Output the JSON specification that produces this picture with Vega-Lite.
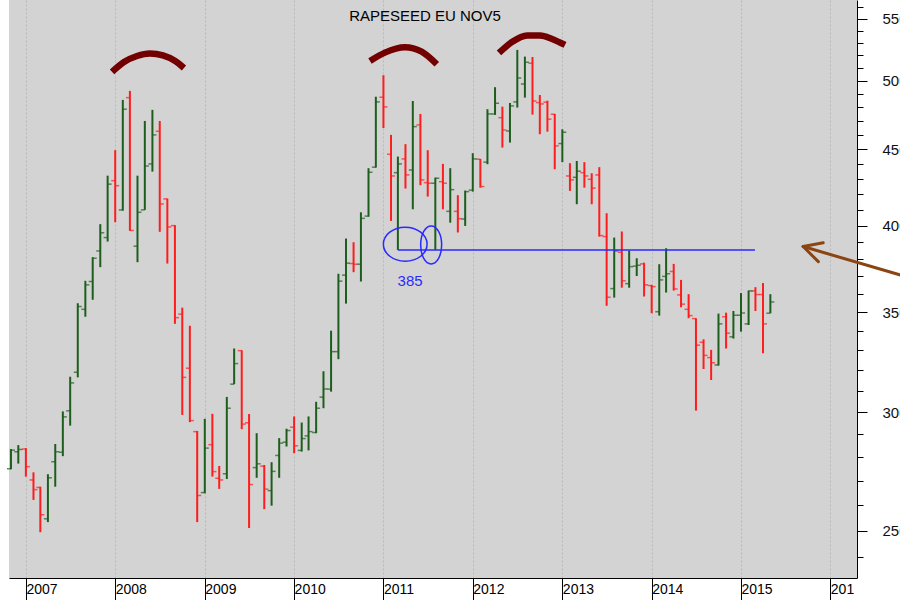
{
  "$schema": "https://vega.github.io/schema/vega-lite/v6.json",
  "width": 848,
  "height": 578,
  "autosize": "none",
  "padding": {"left": 9, "top": 0, "right": 43, "bottom": 22},
  "background": "white",
  "config": {"view": {"fill": "#d3d3d3", "stroke": null}, "font": "Liberation Sans"},
  "title": {"text": "RAPESEED EU NOV5", "anchor": "middle", "offset": -31, "baseline": "middle", "fontSize": 15, "fontWeight": "normal", "font": "Liberation Sans", "color": "black", "dx": -8},
  "datasets": {
    "bars": [
      {"d":"2006-11-01","o":275.0,"h":283.5,"l":274.8,"c":283.0},
      {"d":"2006-12-01","o":282.3,"h":285.2,"l":277.2,"c":283.3},
      {"d":"2007-01-01","o":283.5,"h":283.9,"l":271.7,"c":275.9},
      {"d":"2007-02-01","o":270.3,"h":273.5,"l":262.1,"c":266.3},
      {"d":"2007-03-01","o":267.2,"h":267.5,"l":249.4,"c":256.2},
      {"d":"2007-04-01","o":254.6,"h":272.7,"l":253.3,"c":271.2},
      {"d":"2007-05-01","o":278.0,"h":285.7,"l":267.5,"c":282.3},
      {"d":"2007-06-01","o":282.1,"h":300.4,"l":280.4,"c":297.9},
      {"d":"2007-07-01","o":300.7,"h":316.9,"l":293.9,"c":313.9},
      {"d":"2007-08-01","o":319.1,"h":354.9,"l":316.6,"c":353.1},
      {"d":"2007-09-01","o":351.6,"h":367.4,"l":347.6,"c":365.1},
      {"d":"2007-10-01","o":367.0,"h":381.0,"l":356.8,"c":380.4},
      {"d":"2007-11-01","o":384.7,"h":400.9,"l":375.2,"c":395.6},
      {"d":"2007-12-01","o":392.7,"h":432.0,"l":390.3,"c":426.4},
      {"d":"2008-01-01","o":428.7,"h":449.3,"l":402.1,"c":425.4},
      {"d":"2008-02-01","o":409.8,"h":485.5,"l":409.3,"c":478.6},
      {"d":"2008-03-01","o":487.2,"h":492.3,"l":396.8,"c":397.0},
      {"d":"2008-04-01","o":387.5,"h":432.0,"l":378.1,"c":408.3},
      {"d":"2008-05-01","o":409.8,"h":470.0,"l":409.8,"c":438.5},
      {"d":"2008-06-01","o":439.9,"h":478.1,"l":434.7,"c":460.0},
      {"d":"2008-07-01","o":462.6,"h":470.0,"l":396.2,"c":413.6},
      {"d":"2008-08-01","o":416.8,"h":417.0,"l":377.3,"c":399.2},
      {"d":"2008-09-01","o":400.0,"h":400.3,"l":343.8,"c":347.1},
      {"d":"2008-10-01","o":349.0,"h":352.5,"l":298.8,"c":316.6},
      {"d":"2008-11-01","o":321.1,"h":342.8,"l":295.5,"c":296.2},
      {"d":"2008-12-01","o":291.2,"h":291.5,"l":253.3,"c":263.9},
      {"d":"2009-01-01","o":265.1,"h":297.0,"l":264.8,"c":283.9},
      {"d":"2009-02-01","o":285.4,"h":299.3,"l":271.7,"c":273.8},
      {"d":"2009-03-01","o":271.0,"h":276.2,"l":266.6,"c":270.3},
      {"d":"2009-04-01","o":272.9,"h":307.2,"l":270.7,"c":301.9},
      {"d":"2009-05-01","o":313.3,"h":331.0,"l":313.3,"c":323.4},
      {"d":"2009-06-01","o":329.9,"h":330.1,"l":292.3,"c":294.6},
      {"d":"2009-07-01","o":295.2,"h":299.2,"l":251.0,"c":268.4},
      {"d":"2009-08-01","o":275.5,"h":290.5,"l":271.2,"c":277.1},
      {"d":"2009-09-01","o":276.1,"h":276.6,"l":258.4,"c":266.5},
      {"d":"2009-10-01","o":265.9,"h":277.8,"l":259.8,"c":273.9},
      {"d":"2009-11-01","o":280.7,"h":288.3,"l":271.2,"c":286.1},
      {"d":"2009-12-01","o":286.5,"h":292.5,"l":284.6,"c":291.7},
      {"d":"2010-01-01","o":293.2,"h":298.1,"l":281.7,"c":284.9},
      {"d":"2010-02-01","o":282.9,"h":295.3,"l":282.4,"c":288.1},
      {"d":"2010-03-01","o":289.3,"h":298.1,"l":282.9,"c":291.2},
      {"d":"2010-04-01","o":290.8,"h":304.9,"l":290.5,"c":301.9},
      {"d":"2010-05-01","o":307.1,"h":319.6,"l":301.9,"c":311.0},
      {"d":"2010-06-01","o":310.9,"h":340.2,"l":309.7,"c":329.4},
      {"d":"2010-07-01","o":329.4,"h":371.4,"l":325.6,"c":367.2},
      {"d":"2010-08-01","o":370.6,"h":392.1,"l":354.7,"c":377.5},
      {"d":"2010-09-01","o":377.3,"h":389.9,"l":372.3,"c":376.9},
      {"d":"2010-10-01","o":376.9,"h":408.3,"l":367.0,"c":404.5},
      {"d":"2010-11-01","o":405.9,"h":437.0,"l":405.5,"c":434.3},
      {"d":"2010-12-01","o":437.7,"h":487.9,"l":437.4,"c":484.0},
      {"d":"2011-01-01","o":487.5,"h":504.3,"l":464.9,"c":480.3},
      {"d":"2011-02-01","o":446.5,"h":460.0,"l":402.9,"c":431.8},
      {"d":"2011-03-01","o":434.0,"h":444.9,"l":385.3,"c":439.9},
      {"d":"2011-04-01","o":443.3,"h":453.5,"l":423.5,"c":432.5},
      {"d":"2011-05-01","o":435.8,"h":484.7,"l":410.2,"c":465.9},
      {"d":"2011-06-01","o":467.1,"h":475.1,"l":425.7,"c":429.2},
      {"d":"2011-07-01","o":427.4,"h":449.3,"l":418.3,"c":427.0},
      {"d":"2011-08-01","o":427.0,"h":430.7,"l":385.3,"c":430.3},
      {"d":"2011-09-01","o":428.0,"h":439.9,"l":410.2,"c":427.0},
      {"d":"2011-10-01","o":408.9,"h":437.0,"l":401.8,"c":422.8},
      {"d":"2011-11-01","o":408.9,"h":419.2,"l":395.8,"c":404.3},
      {"d":"2011-12-01","o":404.1,"h":422.2,"l":399.8,"c":421.5},
      {"d":"2012-01-01","o":422.5,"h":447.2,"l":421.5,"c":443.3},
      {"d":"2012-02-01","o":443.1,"h":443.3,"l":424.1,"c":424.8},
      {"d":"2012-03-01","o":441.1,"h":478.6,"l":439.7,"c":475.1},
      {"d":"2012-04-01","o":475.1,"h":495.1,"l":474.4,"c":483.0},
      {"d":"2012-05-01","o":472.4,"h":480.5,"l":451.1,"c":463.5},
      {"d":"2012-06-01","o":462.8,"h":483.2,"l":454.6,"c":481.0},
      {"d":"2012-07-01","o":484.0,"h":524.4,"l":479.8,"c":502.2},
      {"d":"2012-08-01","o":497.6,"h":519.0,"l":487.2,"c":514.5},
      {"d":"2012-09-01","o":513.7,"h":518.7,"l":474.6,"c":484.7},
      {"d":"2012-10-01","o":483.5,"h":489.2,"l":460.5,"c":482.5},
      {"d":"2012-11-01","o":483.8,"h":484.9,"l":462.3,"c":471.3},
      {"d":"2012-12-01","o":474.9,"h":475.1,"l":436.3,"c":452.3},
      {"d":"2013-01-01","o":453.9,"h":464.0,"l":441.1,"c":461.9},
      {"d":"2013-02-01","o":431.8,"h":440.4,"l":422.0,"c":429.2},
      {"d":"2013-03-01","o":430.9,"h":441.9,"l":413.4,"c":435.0},
      {"d":"2013-04-01","o":434.0,"h":441.1,"l":424.1,"c":431.8},
      {"d":"2013-05-01","o":429.6,"h":433.6,"l":413.4,"c":423.8},
      {"d":"2013-06-01","o":432.5,"h":437.7,"l":393.3,"c":393.9},
      {"d":"2013-07-01","o":393.3,"h":407.7,"l":353.5,"c":358.2},
      {"d":"2013-08-01","o":363.0,"h":392.7,"l":358.0,"c":384.7},
      {"d":"2013-09-01","o":383.9,"h":396.4,"l":363.5,"c":367.4},
      {"d":"2013-10-01","o":365.8,"h":384.9,"l":363.5,"c":375.5},
      {"d":"2013-11-01","o":375.8,"h":380.4,"l":370.1,"c":376.3},
      {"d":"2013-12-01","o":377.1,"h":377.8,"l":358.6,"c":365.1},
      {"d":"2014-01-01","o":364.7,"h":365.1,"l":349.5,"c":364.1},
      {"d":"2014-02-01","o":350.3,"h":376.9,"l":348.2,"c":367.9},
      {"d":"2014-03-01","o":369.9,"h":386.3,"l":360.8,"c":371.4},
      {"d":"2014-04-01","o":372.7,"h":377.1,"l":361.9,"c":362.8},
      {"d":"2014-05-01","o":359.5,"h":367.9,"l":352.7,"c":354.4},
      {"d":"2014-06-01","o":351.6,"h":359.9,"l":346.8,"c":348.2},
      {"d":"2014-07-01","o":346.6,"h":346.8,"l":300.8,"c":332.7},
      {"d":"2014-08-01","o":334.2,"h":335.7,"l":320.7,"c":327.5},
      {"d":"2014-09-01","o":326.4,"h":330.3,"l":315.3,"c":323.8},
      {"d":"2014-10-01","o":322.7,"h":349.3,"l":322.4,"c":343.8},
      {"d":"2014-11-01","o":347.6,"h":349.8,"l":331.0,"c":338.9},
      {"d":"2014-12-01","o":337.0,"h":350.7,"l":336.1,"c":348.4},
      {"d":"2015-01-01","o":348.4,"h":360.5,"l":339.7,"c":349.6},
      {"d":"2015-02-01","o":343.8,"h":361.9,"l":343.2,"c":361.7},
      {"d":"2015-03-01","o":361.7,"h":363.8,"l":350.7,"c":359.7},
      {"d":"2015-04-01","o":359.7,"h":366.1,"l":328.6,"c":343.8},
      {"d":"2015-05-01","o":349.5,"h":359.9,"l":349.5,"c":355.6}
    ],
    "arcs": [
      {"arc":1,"d":"2007-12-19","v":506.9},
      {"arc":1,"d":"2008-02-06","v":514.7},
      {"arc":1,"d":"2008-03-30","v":519.5},
      {"arc":1,"d":"2008-05-22","v":521.5},
      {"arc":1,"d":"2008-07-14","v":519.9},
      {"arc":1,"d":"2008-09-02","v":515.5},
      {"arc":1,"d":"2008-10-08","v":510.0},
      {"arc":2,"d":"2010-11-07","v":515.5},
      {"arc":2,"d":"2011-01-07","v":522.2},
      {"arc":2,"d":"2011-03-30","v":526.5},
      {"arc":2,"d":"2011-06-06","v":523.0},
      {"arc":2,"d":"2011-08-07","v":512.9},
      {"arc":3,"d":"2012-04-17","v":521.9},
      {"arc":3,"d":"2012-06-09","v":530.8},
      {"arc":3,"d":"2012-08-10","v":536.2},
      {"arc":3,"d":"2012-10-02","v":536.2},
      {"arc":3,"d":"2012-11-20","v":533.3},
      {"arc":3,"d":"2013-01-12","v":528.4}
    ],
    "arrow": [
      {"seg":"shaft","d":"2015-09-12","v":387.3},
      {"seg":"shaft","d":"2017-03-24","v":364.1},
      {"seg":"upper","d":"2015-09-12","v":387.3},
      {"seg":"upper","d":"2015-12-03","v":389.6},
      {"seg":"lower","d":"2015-09-12","v":387.3},
      {"seg":"lower","d":"2015-11-13","v":378.4}
    ]
  },
  "layer": [
    {
      "data": {"name": "bars"},
      "mark": {"type": "rule", "strokeWidth": 2},
      "encoding": {
        "x": {
          "field": "d", "type": "temporal",
          "scale": {"type": "utc", "domain": ["2006-10-24", "2016-04-19"]},
          "axis": {
            "orient": "bottom", "format": "%Y", "formatType": "utc",
            "tickCount": {"interval": "year", "step": 1},
            "grid": true, "gridDash": [2, 2], "gridColor": "#b8b8b8", "gridWidth": 1,
            "domainColor": "black", "domainWidth": 1,
            "tickColor": "black", "tickSize": 22, "tickWidth": 1,
            "labelAlign": "left", "labelBaseline": "top", "labelPadding": -18, "labelDx": 2,
            "labelFont": "Liberation Sans", "labelFontSize": 14, "labelColor": "black",
            "labelExpr": "utcyear(datum.value) == 2016 ? '201' : datum.label",
            "labelOverlap": false, "labelBound": false, "labelFlush": false,
            "title": null
          }
        },
        "y": {
          "field": "l", "type": "quantitative",
          "scale": {"type": "log", "domain": [232.4, 566.3], "nice": false, "zero": false},
          "axis": {
            "orient": "right",
            "values": [240, 250, 260, 270, 280, 290, 300, 310, 320, 330, 340, 350, 360, 370, 380, 390, 400, 410, 420, 430, 440, 450, 460, 470, 480, 490, 500, 510, 520, 530, 540, 550, 560],
            "format": "d",
            "labelExpr": "datum.value % 50 === 0 ? format(datum.value, 'd') : ''",
            "tickSize": {"condition": {"test": "datum.value % 50 === 0", "value": 10}, "value": 6},
            "grid": false, "domainColor": "black", "tickColor": "black",
            "labelFont": "Liberation Sans", "labelFontSize": 15, "labelColor": "#111111",
            "labelPadding": 15, "labelBaseline": "middle", "labelAlign": "left",
            "labelOverlap": false, "labelBound": false, "title": null
          }
        },
        "y2": {"field": "h"},
        "color": {"condition": {"test": "datum.c >= datum.o", "value": "#1d5e1d"}, "value": "#ff1c1c"}
      }
    },
    {
      "data": {"name": "bars"},
      "mark": {"type": "tick", "orient": "horizontal", "size": 4, "thickness": 1.5, "xOffset": -2},
      "encoding": {
        "x": {"field": "d", "type": "temporal"},
        "y": {"field": "o", "type": "quantitative"},
        "color": {"condition": {"test": "datum.c >= datum.o", "value": "#1d5e1d"}, "value": "#ff1c1c"}
      }
    },
    {
      "data": {"name": "bars"},
      "mark": {"type": "tick", "orient": "horizontal", "size": 4, "thickness": 1.5, "xOffset": 2},
      "encoding": {
        "x": {"field": "d", "type": "temporal"},
        "y": {"field": "c", "type": "quantitative"},
        "color": {"condition": {"test": "datum.c >= datum.o", "value": "#1d5e1d"}, "value": "#ff1c1c"}
      }
    },
    {
      "data": {"values": [{"d": "2011-03-01", "d2": "2015-02-27", "v": 385.3}]},
      "mark": {"type": "rule", "color": "#2a2aff", "strokeWidth": 1.5},
      "encoding": {
        "x": {"field": "d", "type": "temporal"},
        "x2": {"field": "d2"},
        "y": {"field": "v", "type": "quantitative"}
      }
    },
    {
      "data": {"values": [{"d": "2011-03-31", "v": 388.7}]},
      "mark": {"type": "point", "filled": false, "color": "#2a2aff", "strokeWidth": 1.5, "opacity": 1, "size": 1910, "shape": "M-1,0A1,0.778,0,1,0,1,0A1,0.778,0,1,0,-1,0Z"},
      "encoding": {
        "x": {"field": "d", "type": "temporal"},
        "y": {"field": "v", "type": "quantitative"}
      }
    },
    {
      "data": {"values": [{"d": "2011-07-15", "v": 388.3}]},
      "mark": {"type": "point", "filled": false, "color": "#2a2aff", "strokeWidth": 1.5, "opacity": 1, "size": 1444, "shape": "M-0.553,0A0.553,1,0,1,0,0.553,0A0.553,1,0,1,0,-0.553,0Z"},
      "encoding": {
        "x": {"field": "d", "type": "temporal"},
        "y": {"field": "v", "type": "quantitative"}
      }
    },
    {
      "data": {"values": [{"d": "2011-04-20", "v": 367.4, "t": "385"}]},
      "mark": {"type": "text", "color": "#2a2aff", "fontSize": 15, "font": "Liberation Sans", "align": "center", "baseline": "middle"},
      "encoding": {
        "x": {"field": "d", "type": "temporal"},
        "y": {"field": "v", "type": "quantitative"},
        "text": {"field": "t"}
      }
    },
    {
      "data": {"name": "arcs"},
      "mark": {"type": "line", "color": "#730000", "strokeWidth": 6.5, "interpolate": "monotone", "strokeCap": "butt"},
      "encoding": {
        "x": {"field": "d", "type": "temporal"},
        "y": {"field": "v", "type": "quantitative"},
        "detail": {"field": "arc", "type": "nominal"}
      }
    },
    {
      "data": {"name": "arrow"},
      "mark": {"type": "line", "color": "#8b4513", "strokeWidth": 3, "strokeCap": "round"},
      "encoding": {
        "x": {"field": "d", "type": "temporal"},
        "y": {"field": "v", "type": "quantitative"},
        "detail": {"field": "seg", "type": "nominal"}
      }
    }
  ]
}
